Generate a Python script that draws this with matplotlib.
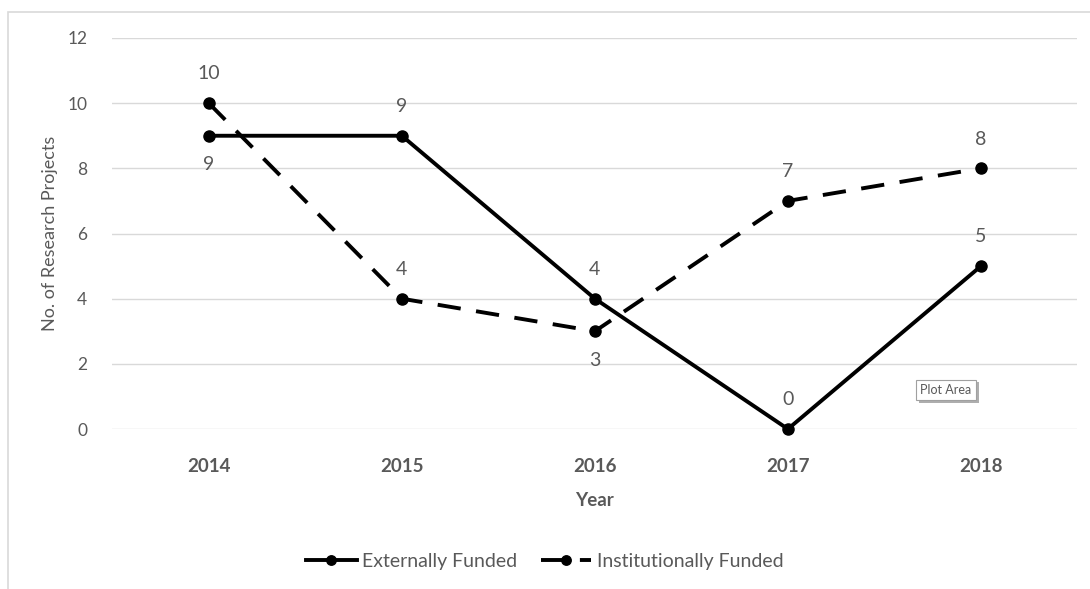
import matplotlib.pyplot as plt
from matplotlib.patches import Rectangle
import matplotlib.patheffects as pe

years = ['2014', '2015', '2016', '2017', '2018']
external = [9, 9, 4, 0, 5]
institutional = [10, 4, 3, 7, 8]
# label placement: 1 = above the point, -1 = below
external_pos = [-1, 1, 1, 1, 1]
institutional_pos = [1, 1, -1, 1, 1]

plt.rcParams['font.family'] = ['Lato', 'DejaVu Sans']
grey = '#595959'

fig = plt.figure(figsize=(10.9, 5.89), dpi=100)
ax = fig.add_axes([0.103, 0.2716, 0.8855, 0.6639])

x = list(range(len(years)))
ax.plot(x, external, color='black', lw=2.8, marker='o', ms=8,
        label='Externally Funded', zorder=3, clip_on=False)
ax.plot(x, institutional, color='black', lw=2.8, marker='o', ms=8,
        dashes=(6, 4), label='Institutionally Funded', zorder=3, clip_on=False)

for xi, v, p in zip(x, external, external_pos):
    ax.annotate(str(v), (xi, v), xytext=(0, 21 * p), textcoords='offset points',
                ha='center', va='center', fontsize=14, color=grey)
for xi, v, p in zip(x, institutional, institutional_pos):
    ax.annotate(str(v), (xi, v), xytext=(0, 21 * p), textcoords='offset points',
                ha='center', va='center', fontsize=14, color=grey)

ax.set_xlim(-0.5, 4.5)
ax.set_ylim(0, 12)
ax.set_yticks(range(0, 13, 2))
ax.set_xticks(x)
ax.set_xticklabels(years, fontsize=13.5, fontweight='bold', color=grey)
ax.tick_params(axis='y', labelsize=12.5, colors=grey, length=0, pad=18)
ax.tick_params(axis='x', length=0, pad=21)
ax.grid(axis='y', color='#d9d9d9', lw=1)
ax.set_axisbelow(True)
for s in ax.spines.values():
    s.set_visible(False)

ax.set_xlabel('Year', fontsize=13.5, fontweight='bold', color=grey, labelpad=12)
ax.set_ylabel('No. of Research Projects', fontsize=13, color=grey, labelpad=7)

ax.legend(loc='center', bbox_to_anchor=(0.5, 0.047), bbox_transform=fig.transFigure,
          ncol=2, frameon=False, fontsize=14, labelcolor=grey, markerscale=0.85,
          handlelength=2.6, handletextpad=0.3, columnspacing=1.2)

# outer chart frame
fig.patches.append(Rectangle((8 / 1090, -0.1), 1.2, 1 - 12 / 589 + 0.1,
                             transform=fig.transFigure, fill=False,
                             edgecolor='#d9d9d9', lw=1.2))

# hover tooltip
fig.text(946 / 1090, 1 - 390 / 589, 'Plot Area', ha='center', va='center',
         fontsize=9, color=grey,
         bbox=dict(boxstyle='square,pad=0.35', fc='white', ec='#a0a0a0', lw=0.8,
                   path_effects=[pe.SimplePatchShadow(offset=(2, -2), shadow_rgbFace='#9a9a9a',
                                                      alpha=0.8), pe.Normal()]))

fig.savefig('out.png', dpi=100)
